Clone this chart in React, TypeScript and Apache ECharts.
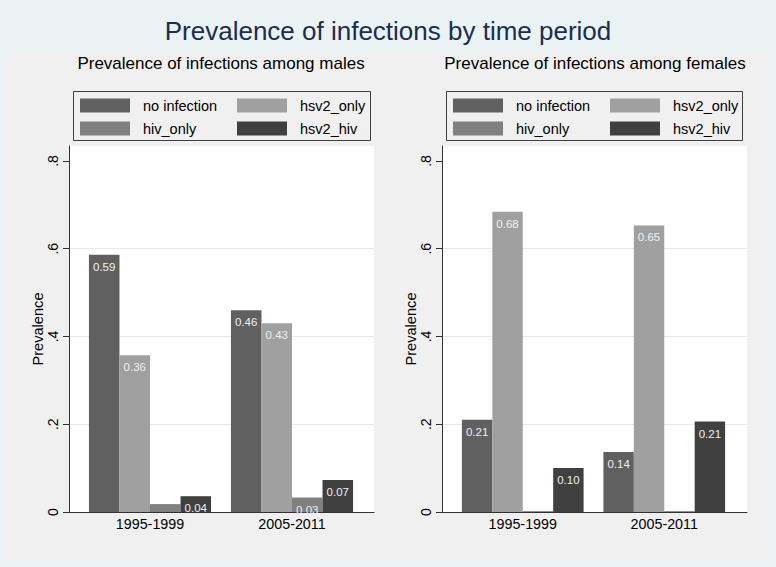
import React, { useEffect, useRef } from 'react';
import * as echarts from 'echarts';

// ---- data ----
const categories = ['1995-1999', '2005-2011'];
const seriesNames = ['no infection', 'hsv2_only', 'hiv_only', 'hsv2_hiv'];
const seriesColors = ['#606060', '#a0a0a0', '#808080', '#404040'];

const malesNoInfection = [0.586, 0.46];
const malesHsv2Only = [0.357, 0.43];
const malesHivOnly = [0.018, 0.033];
const malesHsv2Hiv = [0.036, 0.073];

const femalesNoInfection = [0.21, 0.137];
const femalesHsv2Only = [0.684, 0.653];
const femalesHivOnly = [0.002, 0.002];
const femalesHsv2Hiv = [0.1, 0.206];

const yTicks = [0, 0.2, 0.4, 0.6, 0.8];
const yTickLabels = ['0', '.2', '.4', '.6', '.8'];
const yMax = 0.834;

const mainTitle = 'Prevalence of infections by time period';
const yAxisTitle = 'Prevalence';

const malesValues = [malesNoInfection, malesHsv2Only, malesHivOnly, malesHsv2Hiv];
const femalesValues = [femalesNoInfection, femalesHsv2Only, femalesHivOnly, femalesHsv2Hiv];

// ---- layout ----
const W = 776;
const H = 567;
const FONT = '"Liberation Sans", Arial, Helvetica, sans-serif';
const plotTop = 146;
const plotBottom = 512;

const panels = [
  {
    title: 'Prevalence of infections among males',
    values: malesValues,
    plotLeft: 69,
    plotRight: 374,
    barsLeft: 79,
    barsRight: 363,
    legendLeft: 80,
    frameX: 73,
    frameW: 297,
    titleX: 221,
  },
  {
    title: 'Prevalence of infections among females',
    values: femalesValues,
    plotLeft: 442,
    plotRight: 747,
    barsLeft: 452,
    barsRight: 735,
    legendLeft: 453,
    frameX: 446,
    frameW: 296,
    titleX: 595,
  },
];

function tickLabel(v: number): string {
  const i = yTicks.findIndex((t) => Math.abs(t - v) < 1e-9);
  return i >= 0 ? yTickLabels[i] : '';
}

export default function App() {
  const ref = useRef<HTMLDivElement>(null);

  useEffect(() => {
    document.body.style.margin = '0';
    document.body.style.padding = '0';
    if (!ref.current) return;
    const chart = echarts.init(ref.current, undefined, { renderer: 'svg' });

    const grid: any[] = [];
    const xAxis: any[] = [];
    const yAxis: any[] = [];
    const series: any[] = [];
    const legend: any[] = [];
    const graphic: any[] = [
      {
        type: 'rect',
        z: -100,
        silent: true,
        shape: { x: 4, y: 52, width: 768, height: 510 },
        style: { fill: '#f0f0f0' },
      },
    ];

    panels.forEach((p, pi) => {
      const gA = pi * 2;
      const gB = pi * 2 + 1;
      grid.push({
        left: p.plotLeft,
        right: W - p.plotRight,
        top: plotTop,
        bottom: H - plotBottom,
        show: true,
        backgroundColor: '#ffffff',
        borderWidth: 0,
      });
      grid.push({
        left: p.barsLeft,
        right: W - p.barsRight,
        top: plotTop,
        bottom: H - plotBottom,
        show: false,
      });

      xAxis.push({
        gridIndex: gA,
        type: 'value',
        min: 0,
        max: 1,
        axisLine: { show: true, onZero: false, lineStyle: { color: '#333333', width: 1 } },
        axisTick: { show: false },
        axisLabel: { show: false },
        splitLine: { show: false },
      });
      xAxis.push({
        gridIndex: gB,
        type: 'category',
        data: categories,
        axisLine: { show: false },
        axisTick: { show: false },
        axisLabel: { show: true, color: '#000000', fontSize: 14.3, fontFamily: FONT, margin: 5 },
        splitLine: { show: false },
      });

      yAxis.push({
        gridIndex: gA,
        type: 'value',
        min: 0,
        max: yMax,
        interval: 0.2,
        name: yAxisTitle,
        nameLocation: 'middle',
        nameGap: 23,
        nameTextStyle: { color: '#000000', fontSize: 14.6, fontFamily: FONT },
        axisLine: { show: true, lineStyle: { color: '#333333', width: 1 } },
        axisTick: {
          show: true,
          length: 6,
          customValues: yTicks,
          lineStyle: { color: '#333333', width: 1 },
        },
        axisLabel: {
          show: true,
          rotate: 90,
          customValues: yTicks,
          formatter: (v: number) => tickLabel(v),
          color: '#000000',
          fontSize: 14,
          fontFamily: FONT,
          margin: 9,
        },
        splitLine: {
          show: true,
          showMinLine: false,
          showMaxLine: false,
          lineStyle: { color: '#e8e8e8', width: 1 },
        },
      });
      yAxis.push({
        gridIndex: gB,
        type: 'value',
        min: 0,
        max: yMax,
        show: false,
      });

      seriesNames.forEach((name, si) => {
        series.push({
          type: 'bar',
          name,
          xAxisIndex: gB,
          yAxisIndex: gB,
          data: p.values[si],
          barGap: '0%',
          barCategoryGap: '14%',
          itemStyle: { color: seriesColors[si] },
          label: {
            show: true,
            position: 'insideTop',
            distance: 6,
            color: '#f0f0f0',
            fontSize: 11.5,
            fontFamily: FONT,
            formatter: (prm: any) => (prm.value >= 0.025 ? Number(prm.value).toFixed(2) : ''),
          },
        });
      });

      legend.push({
        data: seriesNames,
        left: p.legendLeft,
        top: 98,
        width: 310,
        orient: 'horizontal',
        itemWidth: 50,
        itemHeight: 14,
        itemGap: 8,
        padding: 0,
        icon: 'rect',
        selectedMode: false,
        textStyle: {
          color: '#000000',
          fontSize: 14.5,
          fontFamily: FONT,
          width: 86,
          lineHeight: 14,
          padding: [0, 0, 0, 8],
        },
      });

      graphic.push({
        type: 'rect',
        silent: true,
        shape: { x: p.frameX + 0.5, y: 91.5, width: p.frameW, height: 49 },
        style: { fill: 'none', stroke: '#404040', lineWidth: 1 },
      });
      graphic.push({
        type: 'text',
        silent: true,
        x: p.titleX,
        y: 55,
        style: {
          text: p.title,
          textAlign: 'center',
          textVerticalAlign: 'top',
          fill: '#000000',
          fontSize: 17,
          fontFamily: FONT,
        },
      });
    });

    chart.setOption({
      animation: false,
      backgroundColor: '#eaf2f3',
      title: {
        text: mainTitle,
        left: 'center',
        top: 13,
        textStyle: { color: '#1c2d50', fontSize: 26, fontWeight: 'normal', fontFamily: FONT },
      },
      grid,
      xAxis,
      yAxis,
      legend,
      series,
      graphic,
      tooltip: { show: false },
    });

    return () => {
      chart.dispose();
    };
  }, []);

  return <div ref={ref} style={{ width: W, height: H, display: 'block' }} />;
}
